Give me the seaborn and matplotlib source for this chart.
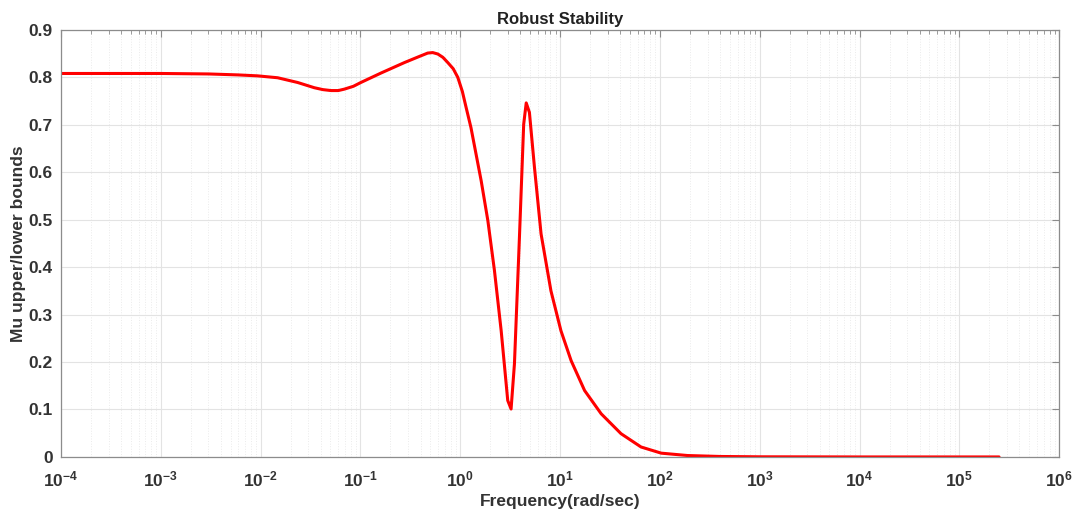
import matplotlib
matplotlib.use("Agg")
import matplotlib.pyplot as plt
import matplotlib.ticker as mticker
import numpy as np
import pandas as pd
import seaborn as sns

# values
freq = [1e-4, 1e-3, 3e-3, 5.9e-3, 9.3e-3, 0.0148, 0.0235, 0.0345, 0.042, 0.0507, 0.06,
        0.069, 0.085, 0.101, 0.161, 0.276, 0.38, 0.472, 0.53, 0.596, 0.67, 0.75, 0.85,
        0.944, 1.05, 1.14, 1.28, 1.62, 1.89, 2.2, 2.57, 2.99, 3.23, 3.49, 3.92, 4.32,
        4.58, 4.93, 5.54, 6.45, 8.1, 10.2, 12.9, 17.6, 25.8, 40.8, 64.7, 103.0, 189.0,
        400.0, 1e3, 1e4, 2.5e5]
mu = [0.808, 0.808, 0.807, 0.805, 0.803, 0.799, 0.789, 0.778, 0.774, 0.772, 0.772,
      0.775, 0.781, 0.789, 0.809, 0.831, 0.843, 0.851, 0.852, 0.849, 0.842, 0.831, 0.818,
      0.800, 0.770, 0.738, 0.694, 0.582, 0.498, 0.393, 0.266, 0.119, 0.101, 0.196, 0.465, 0.701,
      0.746, 0.726, 0.610, 0.470, 0.350, 0.266, 0.203, 0.140, 0.091, 0.049, 0.021, 0.008, 0.003,
      0.001, 0.0003, 0.0, 0.0]

df = pd.DataFrame({"freq": freq, "mu": mu})

sns.set_style("white")
plt.rcParams["font.family"] = ["Liberation Sans", "DejaVu Sans"]
plt.rcParams["mathtext.fontset"] = "custom"
plt.rcParams["mathtext.rm"] = "Liberation Sans:bold"
plt.rcParams["mathtext.bf"] = "Liberation Sans:bold"
plt.rcParams["mathtext.default"] = "bf"

fig = plt.figure(figsize=(10.83, 5.14), dpi=100)
ax = fig.add_axes([0.0563, 0.111, 0.9217, 0.831])

sns.lineplot(data=df, x="freq", y="mu", color="#ff0000", linewidth=2.2, ax=ax)

ax.set_xscale("log")
ax.set_xlim(1e-4, 1e6)
ax.set_ylim(0, 0.9)
ax.set_yticks(np.arange(0, 0.91, 0.1))
ax.yaxis.set_major_formatter(mticker.FormatStrFormatter("%g"))
ax.xaxis.set_major_locator(mticker.LogLocator(base=10, numticks=20))
ax.xaxis.set_major_formatter(mticker.FuncFormatter(lambda v, p: "$10^{%d}$" % round(np.log10(v))))
ax.xaxis.set_minor_locator(mticker.LogLocator(base=10, subs=np.arange(2, 10), numticks=100))
ax.xaxis.set_minor_formatter(mticker.NullFormatter())

# matlab-like grid and box
ax.grid(True, which="major", color="#e3e3e3", linewidth=0.8, linestyle="-")
ax.grid(True, which="minor", axis="x", color="#ebebeb", linewidth=0.7, linestyle=":")
ax.set_axisbelow(True)
for s in ax.spines.values():
    s.set_visible(True)
    s.set_color("#8c8c8c")
    s.set_linewidth(0.9)

ax.tick_params(which="both", direction="in", top=True, right=True, color="#8c8c8c")
ax.tick_params(which="major", length=5, labelsize=12.5, labelcolor="#333333")
ax.tick_params(axis="x", which="major", pad=9)
ax.tick_params(axis="y", which="major", pad=6)
ax.tick_params(which="minor", length=3)
for lab in ax.get_xticklabels() + ax.get_yticklabels():
    lab.set_fontweight("bold")

ax.set_xlabel("Frequency(rad/sec)", fontsize=12.5, fontweight="bold", color="#333333", labelpad=3)
ax.set_ylabel("Mu upper/lower bounds", fontsize=12.5, fontweight="bold", color="#333333", labelpad=2)
ax.set_title("Robust Stability", fontsize=12, fontweight="bold", color="#222222", pad=4)

fig.savefig("out.png", dpi=100)
